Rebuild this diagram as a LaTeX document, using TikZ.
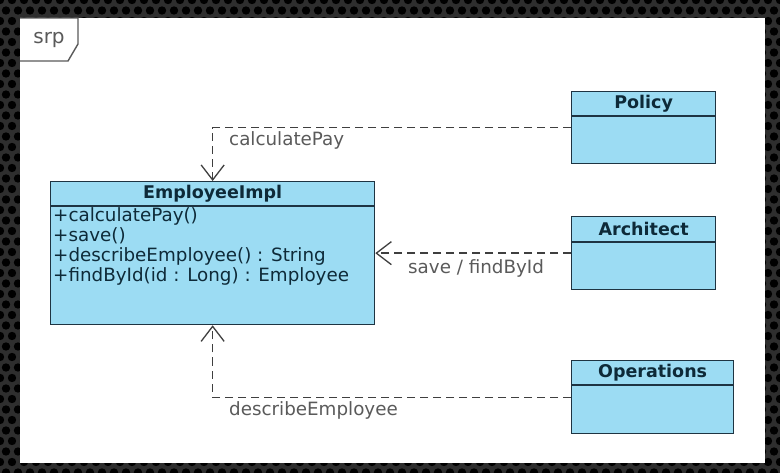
\documentclass[tikz,border=0pt]{standalone}
\usepackage{fontspec}
\setmainfont{DejaVu Sans}
\usetikzlibrary{arrows.meta,calc}
\definecolor{clsfill}{HTML}{9CDCF3}
\definecolor{clsline}{HTML}{1E3442}
\definecolor{clstext}{HTML}{0E2A38}
\definecolor{labgray}{HTML}{5A5A5A}
\definecolor{bgdark}{HTML}{2E2E2E}
\tikzset{
  cls/.style={draw=clsline, fill=clsfill, line width=1.3pt, anchor=north west, inner sep=0pt},
  hdr/.style={font=\bfseries\fontsize{17.5}{20}\selectfont, text=clstext, inner sep=0pt},
  member/.style={font=\fontsize{18.3}{20}\selectfont, text=clstext, anchor=west, inner sep=0pt},
  lab/.style={font=\fontsize{18.3}{20}\selectfont, text=labgray, anchor=west, inner sep=0pt},
  dep/.style={draw=labgray!70!black, line width=1.3pt, dash pattern=on 8pt off 5pt,
    -{Straight Barb[length=15pt,width=23pt,line width=1.3pt]}},
}
\begin{document}
\begin{tikzpicture}[x=1pt,y=-1pt]
  \useasboundingbox (0,0) rectangle (780,473);
  % perforated dark surround
  \fill[bgdark] (0,0) rectangle (780,473);
  \foreach \i in {0,...,66} {
    \foreach \j in {0,...,45} {
      \pgfmathsetmacro{\xx}{\i*12 + mod(\j,2)*6}
      \fill[black] (\xx,\j*10.5) circle (4.2);
    }
  }
  % white frame area
  \fill[white] (20,18) rectangle (765,463);
  % frame tab
  \draw[labgray, line width=1.4pt] (20,18) -- (78,18) -- (78,44) -- (68,61) -- (20,61);
  \node[font=\fontsize{20}{22}\selectfont, text=labgray, inner sep=0pt] (frame) at (49,40) {srp};

  % EmployeeImpl
  \node[cls, minimum width=324pt, minimum height=143pt] (emp) at (50,181) {};
  \draw[clsline, line width=1.3pt] ([yshift=-25pt]emp.north west) -- ([yshift=-25pt]emp.north east);
  \node[hdr] (emph) at ($(emp.north)+(0,12.5)$) {EmployeeImpl};
  \node[member] (m1) at (53,216) {+calculatePay()};
  \node[member] (m2) at (53,236) {+save()};
  \node[member] (m3) at (53,256) {+describeEmployee() : String};
  \node[member] (m4) at (53,276) {+findById(id : Long) : Employee};

  % Policy
  \node[cls, minimum width=144pt, minimum height=72pt] (pol) at (571,91) {};
  \draw[clsline, line width=1.3pt] ([yshift=-25pt]pol.north west) -- ([yshift=-25pt]pol.north east);
  \node[hdr] (polh) at ($(pol.north)+(0,12.5)$) {Policy};

  % Architect
  \node[cls, minimum width=144pt, minimum height=73pt] (arch) at (571,216) {};
  \draw[clsline, line width=1.3pt] ([yshift=-26pt]arch.north west) -- ([yshift=-26pt]arch.north east);
  \node[hdr] (archh) at ($(arch.north)+(0,13)$) {Architect};

  % Operations
  \node[cls, minimum width=162pt, minimum height=73pt] (ops) at (571,360) {};
  \draw[clsline, line width=1.3pt] ([yshift=-25pt]ops.north west) -- ([yshift=-25pt]ops.north east);
  \node[hdr] (opsh) at ($(ops.north)+(0,12.5)$) {Operations};

  % dependencies
  \draw[dep] (pol.west) -| (emp.north);
  \draw[dep] (arch.west) -- (emp.east);
  \draw[dep] (ops.west) -| (emp.south);

  \node[lab] (l1) at (229,140) {calculatePay};
  \node[lab] (l2) at (408,268) {save / findById};
  \node[lab] (l3) at (229,410) {describeEmployee};
\end{tikzpicture}
\end{document}
